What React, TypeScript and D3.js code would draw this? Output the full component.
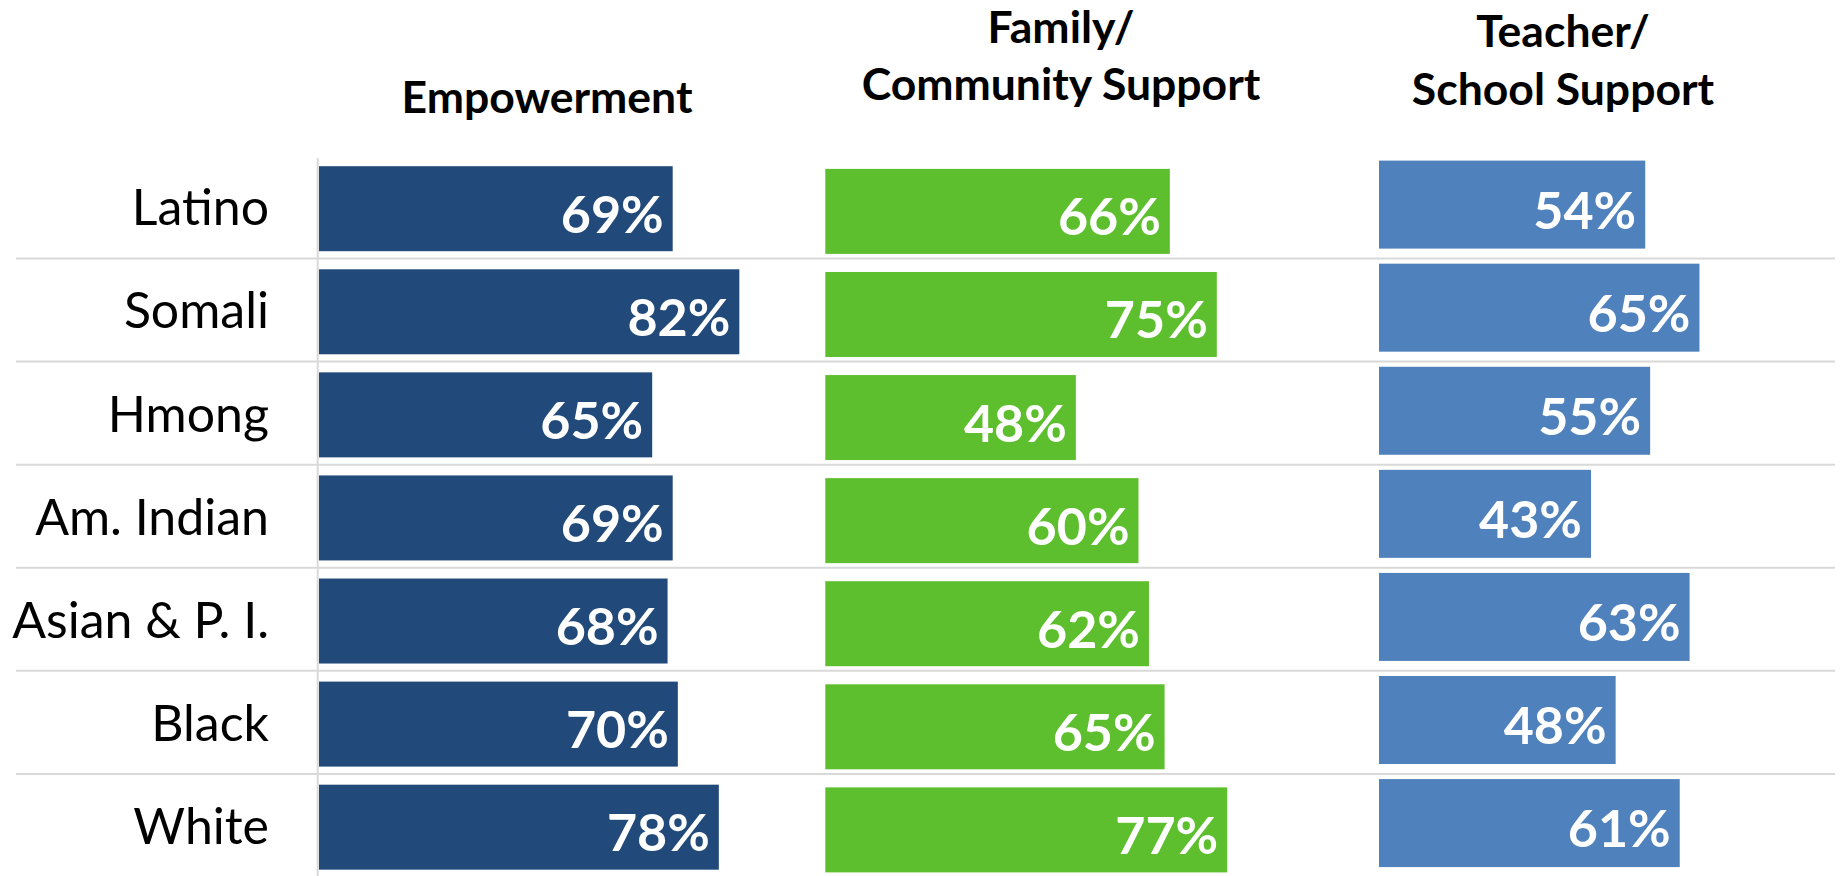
import React from "react";
import * as d3 from "d3";

const categories = ["Latino", "Somali", "Hmong", "Am. Indian", "Asian & P. I.", "Black", "White"];
const empowerment = [69, 82, 65, 69, 68, 70, 78];
const familySupport = [66, 75, 48, 60, 62, 65, 77];
const teacherSupport = [54, 65, 55, 43, 63, 48, 61];
const panelTitles = [["Empowerment"], ["Family/", "Community Support"], ["Teacher/", "School Support"]];

const W = 1841;
const H = 876;
const FONT = "Lato, 'Open Sans', sans-serif";

const panels = [
  { values: empowerment, color: "#214A7B", x0: 319, full: 512.6, offset: 10.8, barH: 85, titleX: 547, titleY: [112.7] },
  { values: familySupport, color: "#5EBF2E", x0: 825.3, full: 522, offset: 13.5, barH: 85, titleX: 1061, titleY: [42.7, 100] },
  { values: teacherSupport, color: "#4F81BD", x0: 1379, full: 493, offset: 5.2, barH: 88, titleX: 1563, titleY: [46.7, 105] },
];

export default function App() {
  const y = d3.scaleBand<string>().domain(categories).range([155.4, 155.4 + 7 * 103.08]).padding(0);
  const bw = y.bandwidth();
  return (
    <svg width={W} height={H} style={{ position: "absolute", left: 0, top: 0, background: "#fff" }} fontFamily={FONT}>
      {categories.slice(1).map((c) => (
        <line key={"sep" + c} x1={16} x2={1835} y1={y(c)!} y2={y(c)!} stroke="#D9D9D9" strokeWidth={2} />
      ))}
      <line x1={317.7} x2={317.7} y1={158} y2={H} stroke="#D9D9D9" strokeWidth={2} />
      {categories.map((c) => (
        <text key={"cat" + c} x={269} y={y(c)! + bw / 2 + 18.4} textAnchor="end" fontSize={50} fill="#000">
          {c}
        </text>
      ))}
      {panels.map((p, pi) => {
        const x = d3.scaleLinear().domain([0, 100]).range([p.x0, p.x0 + p.full]);
        return (
          <g key={"panel" + pi}>
            {panelTitles[pi].map((t, ti) => (
              <text key={t} x={p.titleX} y={p.titleY[ti]} textAnchor="middle" fontSize={44.5} fontWeight="bold" fill="#000">
                {t}
              </text>
            ))}
            {categories.map((c, i) => {
              const top = y(c)! + p.offset;
              const v = p.values[i];
              return (
                <g key={c}>
                  <rect x={x(0)} y={top} width={x(v) - x(0)} height={p.barH} fill={p.color} />
                  <text x={x(v) - 9} y={top + p.barH / 2 + 24} textAnchor="end" fontSize={52} fontWeight="bold" fill="#fff">
                    {v + "%"}
                  </text>
                </g>
              );
            })}
          </g>
        );
      })}
    </svg>
  );
}
